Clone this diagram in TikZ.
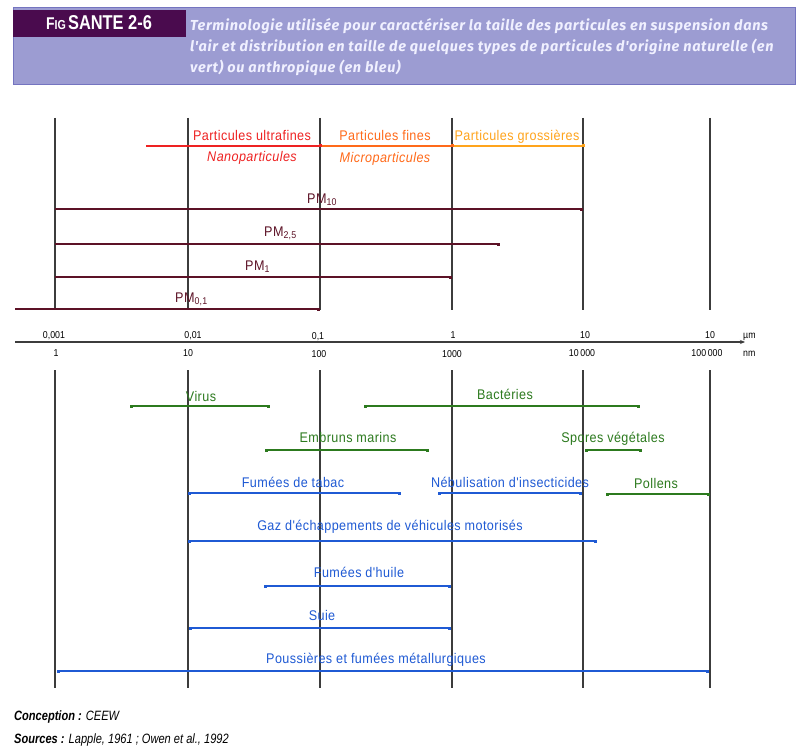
\documentclass[tikz,border=0pt]{standalone}
\usepackage{fontspec}
\setmainfont{Liberation Sans}
\newfontfamily\lblfont{Liberation Sans}[FakeStretch=0.9,LetterSpace=3]
\newfontfamily\axfont{Liberation Sans}[FakeStretch=0.88]
\newfontfamily\narrowfont{Liberation Sans}[FakeStretch=0.82]
\newfontfamily\titlefont{Fira Sans}[LetterSpace=4.5]
\usetikzlibrary{arrows.meta}
\definecolor{hdrbg}{HTML}{9C9CD2}
\definecolor{hdrline}{HTML}{7474C0}
\definecolor{hdrdark}{HTML}{4A0B4E}
\definecolor{titletxt}{HTML}{F0F0FF}
\definecolor{cred}{HTML}{EE2222}
\definecolor{corange}{HTML}{FF6A1A}
\definecolor{cyellow}{HTML}{FFA41C}
\definecolor{cmaroon}{HTML}{5C1226}
\definecolor{cgreen}{HTML}{2C7A1E}
\definecolor{cblue}{HTML}{1F5AD4}
\definecolor{cgrid}{HTML}{3C3C3C}
\tikzset{
  grid/.style={draw=cgrid, line width=1.3pt},
  bar/.style={line width=1.2pt},
  dotR/.style={-{Square[length=3pt,width=3pt]}},
  dotLR/.style={{Square[length=3pt,width=3pt]}-{Square[length=3pt,width=3pt]}},
  lbl/.style={font=\lblfont\fontsize{14}{16}\selectfont, inner sep=0pt, anchor=base},
  lbli/.style={font=\lblfont\itshape\fontsize{14}{16}\selectfont, inner sep=0pt, anchor=base},
  axl/.style={font=\axfont\fontsize{10}{11}\selectfont, inner sep=0pt, anchor=base},
  ttl/.style={font=\titlefont\bfseries\itshape\fontsize{14.5}{16}\selectfont, text=titletxt, inner sep=0pt, anchor=base west},
  foot/.style={font=\narrowfont\itshape\fontsize{13.5}{15}\selectfont, inner sep=0pt, anchor=base west},
}
\begin{document}
\begin{tikzpicture}[x=1pt,y=-1pt]
\useasboundingbox (0,0) rectangle (798,749);
\fill[white] (0,0) rectangle (798,749);
% header
\filldraw[fill=hdrbg, draw=hdrline, line width=1pt] (13,8) rectangle (795,85);
\fill[hdrdark] (13,10) rectangle (186,37);
\node[font=\narrowfont\bfseries, text=white, inner sep=0pt, anchor=base] (fig) at (99,30) {{\fontsize{17}{18}\selectfont F}{\fontsize{13}{18}\selectfont IG} {\fontsize{20}{22}\selectfont SANTE 2-6}};
\node[ttl] (t1) at (190,31) {Terminologie utilisée pour caractériser la taille des particules en suspension dans};
\node[ttl] (t2) at (190,52) {l'air et distribution en taille de quelques types de particules d'origine naturelle (en};
\node[ttl] (t3) at (190,73) {vert) ou anthropique (en bleu)};
% vertical grid lines
\foreach \n/\x in {a/55,b/188,c/320,d/452,e/583,f/710}{
  \coordinate (\n T) at (\x,118);
  \coordinate (\n M) at (\x,310);
  \coordinate (\n N) at (\x,370);
  \coordinate (\n B) at (\x,688);
  \draw[grid] (\n T) -- (\n M);
  \draw[grid] (\n N) -- (\n B);
}
% top classification
\coordinate (uf0) at (146,146); \coordinate (uf1) at (320,146);
\coordinate (fi1) at (452,146); \coordinate (gr1) at (583,146);
\draw[bar, cred] (uf0) -- (uf1);
\draw[bar, corange] (uf1) -- (fi1);
\draw[bar, cyellow] (fi1) -- (gr1);
\fill[cred] (318.5,144.5) rectangle +(3,3);
\fill[corange] (450.5,144.5) rectangle +(3,3);
\fill[cyellow] (581.5,144.5) rectangle +(3,3);
\node[lbl, text=cred] (ufl) at (252,141) {Particules ultrafines};
\node[lbli, text=cred] (nano) at (252,162) {Nanoparticules};
\node[lbl, text=corange] (fil) at (385,141) {Particules fines};
\node[lbli, text=corange] (micro) at (385,163) {Microparticules};
\node[lbl, text=cyellow] (grl) at (517,141) {Particules grossières};
% PM lines
\coordinate (pm10a) at (55,209); \coordinate (pm10b) at (583,209);
\coordinate (pm25a) at (55,244); \coordinate (pm25b) at (500,244);
\coordinate (pm1a) at (55,277); \coordinate (pm1b) at (452,277);
\coordinate (pm01a) at (15,309); \coordinate (pm01b) at (320,309);
\draw[bar, cmaroon, dotR] (pm10a) -- (pm10b);
\draw[bar, cmaroon, dotR] (pm25a) -- (pm25b);
\draw[bar, cmaroon, dotR] (pm1a) -- (pm1b);
\draw[bar, cmaroon, dotR] (pm01a) -- (pm01b);
\node[lbl, text=cmaroon, anchor=base west] (pm10) at (307,203) {PM\textsubscript{10}};
\node[lbl, text=cmaroon, anchor=base west] (pm25) at (264,236) {PM\textsubscript{2,5}};
\node[lbl, text=cmaroon, anchor=base west] (pm1) at (245,270) {PM\textsubscript{1}};
\node[lbl, text=cmaroon, anchor=base west] (pm01) at (175,302) {PM\textsubscript{0,1}};
% axis
\coordinate (ax0) at (15,342); \coordinate (ax1) at (745,342);
\draw[line width=1.2pt, cgrid, -{Stealth[length=5pt,width=4pt]}] (ax0) -- (ax1);
\node[axl] (u1) at (54,338) {0,001};
\node[axl] (u2) at (193,338) {0,01};
\node[axl] (u3) at (318,339) {0,1};
\node[axl] (u4) at (453,338) {1};
\node[axl] (u5) at (585,338) {10};
\node[axl] (u6) at (710,338) {10};
\node[axl, anchor=base west] (um) at (743,338) {µm};
\node[axl] (n1) at (56,356) {1};
\node[axl] (n2) at (188,356) {10};
\node[axl] (n3) at (319,357) {100};
\node[axl] (n4) at (452,357) {1000};
\node[axl] (n5) at (582,356) {10\,000};
\node[axl] (n6) at (707,356) {100\,000};
\node[axl, anchor=base west] (nm) at (743,356) {nm};
% natural (green)
\coordinate (vi0) at (130,406); \coordinate (vi1) at (270,406);
\coordinate (ba0) at (364,406); \coordinate (ba1) at (640,406);
\coordinate (em0) at (265,450); \coordinate (em1) at (429,450);
\coordinate (sp0) at (585,450); \coordinate (sp1) at (642,450);
\coordinate (po0) at (606,494); \coordinate (po1) at (710,494);
\draw[bar, cgreen, dotLR] (vi0) -- (vi1);
\draw[bar, cgreen, dotLR] (ba0) -- (ba1);
\draw[bar, cgreen, dotLR] (em0) -- (em1);
\draw[bar, cgreen, dotLR] (sp0) -- (sp1);
\draw[bar, cgreen, dotLR] (po0) -- (po1);
\node[lbl, text=cgreen] (vil) at (201,401) {Virus};
\node[lbl, text=cgreen] (bal) at (505,399) {Bactéries};
\node[lbl, text=cgreen] (eml) at (348,442) {Embruns marins};
\node[lbl, text=cgreen] (spl) at (613,442) {Spores végétales};
\node[lbl, text=cgreen] (pol) at (656,488) {Pollens};
% anthropic (blue)
\coordinate (ft0) at (188,493); \coordinate (ft1) at (401,493);
\coordinate (ne0) at (438,493); \coordinate (ne1) at (582,493);
\coordinate (ga0) at (188,541); \coordinate (ga1) at (597,541);
\coordinate (fh0) at (264,586); \coordinate (fh1) at (451,586);
\coordinate (su0) at (189,628); \coordinate (su1) at (451,628);
\coordinate (pm0) at (57,671); \coordinate (pm1x) at (709,671);
\draw[bar, cblue, dotLR] (ft0) -- (ft1);
\draw[bar, cblue, dotLR] (ne0) -- (ne1);
\draw[bar, cblue, dotLR] (ga0) -- (ga1);
\draw[bar, cblue, dotLR] (fh0) -- (fh1);
\draw[bar, cblue, dotLR] (su0) -- (su1);
\draw[bar, cblue, dotLR] (pm0) -- (pm1x);
\node[lbl, text=cblue] (ftl) at (293,487) {Fumées de tabac};
\node[lbl, text=cblue] (nel) at (510,487) {Nébulisation d'insecticides};
\node[lbl, text=cblue] (gal) at (390,530) {Gaz d'échappements de véhicules motorisés};
\node[lbl, text=cblue] (fhl) at (359,577) {Fumées d'huile};
\node[lbl, text=cblue] (sul) at (322,620) {Suie};
\node[lbl, text=cblue] (pml) at (376,663) {Poussières et fumées métallurgiques};
% footer
\node[foot] (conc) at (14,720) {\textbf{Conception :} CEEW};
\node[foot] (src) at (14,743) {\textbf{Sources :} Lapple, 1961 ; Owen et al., 1992};
\end{tikzpicture}
\end{document}
